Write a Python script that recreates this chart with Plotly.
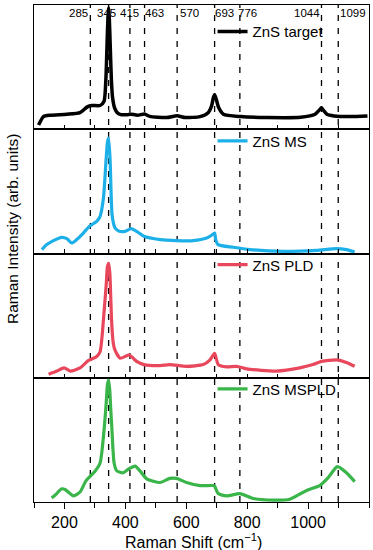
import plotly.graph_objects as go
from plotly.subplots import make_subplots

# ---------------- data ----------------
peak_positions = [285, 345, 415, 463, 570, 693, 776, 1044, 1099]
peak_labels = ["285", "345", "415", "463", "570", "693", "776", "1044", "1099"]
x_tick_values = [200, 400, 600, 800, 1000]
x_tick_labels = ["200", "400", "600", "800", "1000"]

series_names = ["ZnS target", "ZnS MS", "ZnS PLD", "ZnS MSPLD"]

target_x = [115, 131, 153, 208, 251, 275, 290, 317, 330, 336, 340, 343, 345, 347, 350, 354, 358, 364, 372, 385,
            410, 415, 440, 463, 480, 535, 570, 597, 645, 672, 683, 689, 693, 698, 706, 722, 778, 865, 975,
            1023, 1036, 1044, 1052, 1062, 1085, 1139, 1195]
target_y = [2.4, 9.4, 10.5, 11.3, 12.6, 17.4, 18.5, 18.5, 22, 40, 70, 92, 99, 92, 70, 40, 25, 17, 13, 11,
            11, 11.5, 10.5, 11.5, 9.6, 8.6, 10, 8.6, 9.4, 12.6, 18, 25, 27.3, 24, 17, 11.3, 9.4, 8.6, 8.8,
            11.3, 14.5, 16.6, 14, 11.3, 9.9, 9.4, 9.9]

ms_x = [126, 142, 164, 191, 208, 224, 240, 262, 282, 306, 317, 328, 337, 341, 345, 350, 353, 356, 360, 366, 380,
        399, 419, 437, 461, 514, 568, 623, 667, 683, 693, 697, 704, 754, 809, 918, 1027, 1093, 1126, 1153]
ms_y = [2.2, 6.3, 9.6, 12.3, 11.2, 7.7, 10.4, 15.8, 21.3, 25.4, 29.5, 44.5, 77, 90, 93.7, 75, 50, 32, 25, 20, 17.2,
        17.2, 19.4, 17.2, 13.1, 10.4, 9.6, 9.6, 11.7, 14, 15.8, 10, 6.3, 4.1, 2.2, 0.8, 1.6, 3.0, 2.2, 0.3]

pld_x = [148, 175, 199, 219, 251, 279, 306, 317, 330, 337, 341, 345, 349, 352, 355, 360, 366, 383,
         413, 437, 461, 514, 546, 601, 656, 678, 693, 705, 732, 765, 798, 896, 973, 1016, 1044, 1093, 1126, 1153]
pld_y = [1.8, 4.5, 7.1, 4.5, 7.1, 13.2, 16.4, 20.3, 53, 75, 90, 93, 85, 65, 45, 28, 21.6, 15,
         17.7, 12.4, 9.8, 9, 9.8, 8.4, 9.8, 13.7, 19, 9.8, 7.9, 8.4, 6.3, 4.5, 7.1, 9.8, 12.4, 13.7, 11.6, 8.4]

mspld_x = [158, 169, 191, 202, 230, 251, 271, 301, 317, 330, 337, 341, 345, 349, 352, 355, 363, 372,
           393, 410, 432, 448, 470, 514, 546, 568, 601, 645, 689, 693, 705, 732, 776, 820, 885, 940, 995,
           1038, 1066, 1096, 1126, 1153]
mspld_y = [2.4, 4.5, 9.8, 9.3, 4, 7.2, 16.5, 24.5, 31, 58, 80, 95, 99, 90, 75, 63, 31, 24.5,
           23, 26, 28.5, 24.5, 18, 15, 18.4, 18.4, 15, 12.5, 12.5, 12, 5.9, 4, 5.9, 1.9, 0.5, 1.3, 8.5,
           12.5, 19, 28, 23, 15.7]

xs = [target_x, ms_x, pld_x, mspld_x]
ys = [target_y, ms_y, pld_y, mspld_y]

# ---------------- style ----------------
colors = ["#000000", "#1DB0E8", "#E8475C", "#3AB54A"]
widths = [3.5, 3.2, 3.2, 3.2]
label_shift = [-12, -2, 0, 10, 12, 10, 8, -14, 15]
legend_y = [0.946, 0.726, 0.477, 0.227]
FONT = "Liberation Sans, Arial, sans-serif"

fig = make_subplots(rows=4, cols=1, shared_xaxes=True, vertical_spacing=0)

for i in range(4):
    lg = "legend" if i == 0 else f"legend{i+1}"
    fig.add_trace(go.Scatter(x=xs[i], y=ys[i], mode="lines", name=series_names[i],
                             line=dict(color=colors[i], width=widths[i], shape="spline", smoothing=0.6),
                             legend=lg), row=i + 1, col=1)
    fig.update_layout({lg: dict(x=0.533, y=legend_y[i], xanchor="left", yanchor="middle",
                                bgcolor="rgba(0,0,0,0)", font=dict(family=FONT, size=15, color="black"),
                                borderwidth=0, tracegroupgap=0)})

for r in range(1, 5):
    fig.update_yaxes(range=[-1, 101], showticklabels=False, ticks="", showgrid=False, zeroline=False,
                     automargin=False,
                     showline=True, linecolor="black", linewidth=1.3, mirror=True, row=r, col=1)
    if r < 4:
        fig.update_xaxes(range=[100, 1200], tick0=0, dtick=100, ticks="inside", ticklen=4, tickwidth=1,
                         tickcolor="black", showticklabels=False, showgrid=False, zeroline=False,
                         automargin=False,
                         showline=True, linecolor="black", linewidth=1.3, mirror=True, row=r, col=1)
    else:
        fig.update_xaxes(range=[100, 1200], tickmode="array", tickvals=x_tick_values, ticktext=x_tick_labels,
                         ticks="outside", ticklen=6, tickwidth=1,
                         tickcolor="black", showticklabels=True, automargin=False,
                         tickfont=dict(family=FONT, size=16, color="black"),
                         minor=dict(tickmode="linear", tick0=0, dtick=100, ticks="outside", ticklen=5,
                                    tickcolor="black", tickwidth=1),
                         showgrid=False, zeroline=False,
                         showline=True, linecolor="black", linewidth=1.3, mirror=True, row=r, col=1)

for p, lab, sh in zip(peak_positions, peak_labels, label_shift):
    fig.add_shape(type="line", xref="x", yref="paper", x0=p, x1=p, y0=0, y1=1,
                  line=dict(color="black", width=1.3, dash="6px,7px"), layer="below")
    fig.add_annotation(x=p, xref="x", y=0.984, yref="paper", text=lab, showarrow=False,
                       xanchor="center", yanchor="middle", xshift=sh,
                       font=dict(family=FONT, size=11.5, color="black"))

fig.add_annotation(x=-0.066, xref="paper", y=0.549, yref="paper", text="Raman Intensity (arb. units)",
                   textangle=-90, showarrow=False, xanchor="center", yanchor="middle",
                   font=dict(family=FONT, size=15.5, color="black"))
fig.add_annotation(x=0.476, xref="paper", y=-0.078, yref="paper", text="Raman Shift (cm<sup>\u22121</sup>)",
                   showarrow=False, xanchor="center", yanchor="middle",
                   font=dict(family=FONT, size=16, color="black"))

fig.update_layout(width=373, height=550, margin=dict(l=34, r=4, t=5, b=48, autoexpand=False),
                  plot_bgcolor="white", paper_bgcolor="white", showlegend=True)

fig.write_html("out.html", config={"displayModeBar": False},
               post_script="document.body.style.margin='0px';document.body.style.overflow='hidden';")
